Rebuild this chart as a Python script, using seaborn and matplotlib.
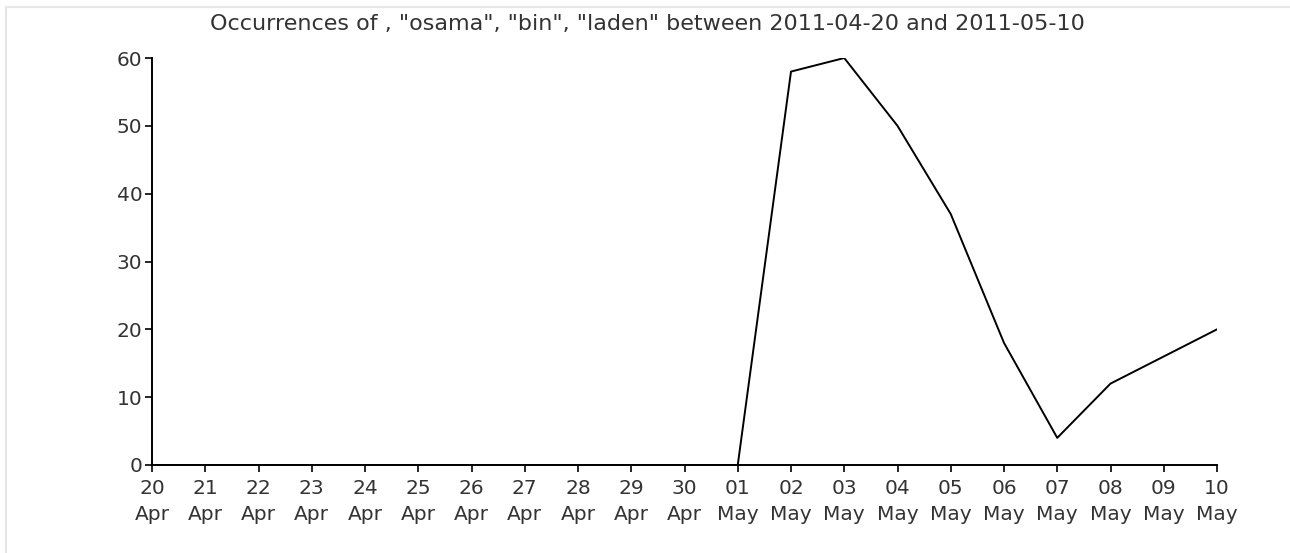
import matplotlib
matplotlib.use("Agg")
import matplotlib.pyplot as plt
import seaborn as sns
import pandas as pd
from matplotlib.patches import Rectangle

days = ["20", "21", "22", "23", "24", "25", "26", "27", "28", "29", "30",
        "01", "02", "03", "04", "05", "06", "07", "08", "09", "10"]
months = ["Apr"] * 11 + ["May"] * 10
counts = [0, 0, 0, 0, 0, 0, 0, 0, 0, 0, 0, 0, 58, 60, 50, 37, 18, 4, 12, 16, 20]
y_ticks = [0, 10, 20, 30, 40, 50, 60]
title = 'Occurrences of , "osama", "bin", "laden" between 2011-04-20 and 2011-05-10'

df = pd.DataFrame({"idx": list(range(len(days))), "count": counts})
labels = [f"{d}\n{m}" for d, m in zip(days, months)]

sns.set_style("white")
plt.rcParams["font.family"] = ["DejaVu Sans"]
txt_color = "#333333"
fs = 14.5

fig = plt.figure(figsize=(12.9, 5.53), dpi=100)
ax = fig.add_axes([152 / 1290, 1 - 465 / 553, (1217 - 152) / 1290, (465 - 58) / 553])

sns.lineplot(data=df, x="idx", y="count", ax=ax, color="black", linewidth=1.4)

ax.set_xlim(0, len(days) - 1)
ax.set_ylim(0, 60)
ax.set_xticks(df["idx"])
ax.set_xticklabels(labels, fontsize=fs, color=txt_color, linespacing=1.45)
ax.set_yticks(y_ticks)
ax.set_yticklabels([str(v) for v in y_ticks], fontsize=fs, color=txt_color)
ax.set_xlabel("")
ax.set_ylabel("")
for s in ["top", "right"]:
    ax.spines[s].set_visible(False)
for s in ["left", "bottom"]:
    ax.spines[s].set_color("black")
    ax.spines[s].set_linewidth(1.4)
ax.tick_params(axis="both", direction="out", length=5, width=1.2, color="black", pad=2,
               left=True, bottom=True)
ax.tick_params(axis="x", pad=5)

fig.text(0.502, 1 - 24 / 553, title, ha="center", va="center", fontsize=16, color=txt_color)

fig.patches.append(Rectangle((5.5 / 1290, -0.1), 2, 1 - 6.5 / 553 + 0.1,
                             transform=fig.transFigure, fill=False,
                             edgecolor="#e6e6e6", linewidth=1.5))

fig.savefig("out.png", dpi=100, facecolor="white")
